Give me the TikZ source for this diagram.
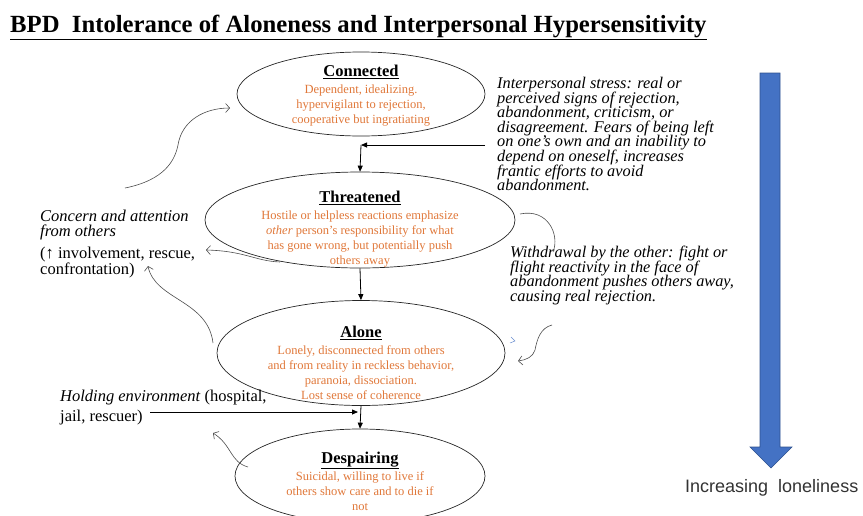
\documentclass[tikz,border=0pt]{standalone}
\usepackage{fontspec}
\setmainfont{Liberation Serif}
\setsansfont{Liberation Sans}
\usetikzlibrary{shapes.geometric,arrows.meta}
\definecolor{descorange}{HTML}{E0783A}
\definecolor{arrowblue}{HTML}{4472C4}
\definecolor{arrowedge}{HTML}{2F528F}
\newcommand{\heading}[1]{{\color{black}\fontsize{16.5}{18}\selectfont\bfseries\underline{#1}}}
\newcommand{\notefont}{\fontsize{16.3}{14.6}\selectfont\itshape\lineskiplimit=-4pt\relax}
\begin{document}
\begin{tikzpicture}[x=1pt, y=-1pt]
\tikzstyle{state}=[draw=black!85, ellipse, line width=0.7pt, inner sep=0]
\tikzstyle{desc}=[text=descorange, align=center, inner sep=0, font=\fontsize{12.5}{15}\selectfont]
\tikzstyle{note}=[align=left, anchor=north west, inner sep=0, font=\notefont]
\tikzstyle{side}=[align=left, anchor=north west, inner sep=0, font=\fontsize{16.5}{15}\selectfont]
\tikzstyle{arr}=[line width=0.8pt, -{Triangle[length=6pt, width=5pt]}]
\tikzstyle{loop}=[draw=black!70, line width=0.6pt, -{Straight Barb[length=4pt, width=9pt]}]
\useasboundingbox (0,0) rectangle (863,515);
\node[anchor=base west, inner sep=0, font=\fontsize{24.7}{28}\selectfont\bfseries] (title) at (10,32) {\underline{BPD\ \ Intolerance of Aloneness and Interpersonal Hypersensitivity}};
\node[state, minimum width=248, minimum height=84] (connected) at (361,94) {};
\node[state, minimum width=310, minimum height=96] (threatened) at (360,220) {};
\node[state, minimum width=288, minimum height=105] (alone) at (361,353) {};
\node[state, minimum width=250, minimum height=94] (despairing) at (360,476) {};
\node[desc] (connectedtxt) at (361,96) {\heading{Connected}\\[2pt]Dependent, idealizing.\\hypervigilant to rejection,\\cooperative but ingratiating};
\node[desc] (threatenedtxt) at (360,229) {\heading{Threatened}\\[2pt]Hostile or helpless reactions emphasize\\\textit{other} person’s responsibility for what\\has gone wrong, but potentially push\\others away};
\node[desc] (alonetxt) at (361,363) {\heading{Alone}\\[2pt]Lonely, disconnected from others\\and from reality in reckless behavior,\\paranoia, dissociation.\\Lost sense of coherence};
\node[desc] (despairingtxt) at (360,481) {\heading{Despairing}\\[2pt]Suicidal, willing to live if\\others show care and to die if\\not};
\node[note] (stress) at (497,77) {Interpersonal stress: real or\\perceived signs of rejection,\\abandonment, criticism, or\\disagreement. Fears of being left\\on one’s own and an inability to\\depend on oneself, increases\\frantic efforts to avoid\\abandonment.};
\node[note] (withdrawal) at (510,246) {Withdrawal by the other: fight or\\flight reactivity in the face of\\abandonment pushes others away,\\causing real rejection.};
\node[side] (concern) at (40,210) {\textit{Concern and attention}\\\textit{from others}\\[7pt](↑ involvement, rescue,\\confrontation)};
\node[side, font=\fontsize{16.5}{20}\selectfont] (holding) at (60,390) {\textit{Holding environment} (hospital,\\jail, rescuer)};
\node[anchor=west, inner sep=0, text=black!80, font=\sffamily\fontsize{18}{20}\selectfont] (lonely) at (685,488) {Increasing\ \ loneliness};
\fill[arrowblue, draw=arrowedge, line width=0.6pt] (760,73) -- (780,73) -- (780,447) -- (792,447) -- (771,468) -- (750,447) -- (760,447) -- cycle;
\coordinate (stressout) at (485,145);
\coordinate (stressin) at (361,145);
\coordinate (holdout) at (150,412);
\coordinate (holdin) at (358,412);
\draw[arr] (stressout) -- (stressin);
\draw[arr] (stressin) -- (threatened.north);
\draw[arr] (threatened.south) -- (alone.north);
\draw[arr] (alone.south) -- (despairing.north);
\draw[arr] (holdout) -- (holdin);
\coordinate (c1a) at (125,188); \coordinate (c1b) at (230,108);
\coordinate (c2a) at (520,214); \coordinate (c2b) at (553,252);
\coordinate (c3a) at (552,325); \coordinate (c3b) at (518,361);
\coordinate (c4a) at (280,262); \coordinate (c4b) at (206,250);
\coordinate (c5a) at (213,343); \coordinate (c5b) at (148,266);
\coordinate (c6a) at (248,467); \coordinate (c6b) at (213,433);
\draw[loop] (c1a) .. controls (165,180) and (175,160) .. (178,145) .. controls (182,120) and (205,108) .. (c1b);
\draw[draw=black!70, line width=0.6pt] (c2a) .. controls (548,208) and (560,235) .. (c2b);
\draw[loop] (c3a) .. controls (540,328) and (537,340) .. (535,350) .. controls (533,357) and (526,360) .. (c3b);
\draw[loop] (c4a) .. controls (255,261) and (245,251) .. (c4b);
\draw[loop] (c5a) .. controls (208,300) and (155,300) .. (c5b);
\draw[loop] (c6a) .. controls (230,462) and (232,445) .. (c6b);
\draw[arrowblue!80, line width=0.5pt] (511,337) -- (515,341) -- (510,343);
\end{tikzpicture}
\end{document}
